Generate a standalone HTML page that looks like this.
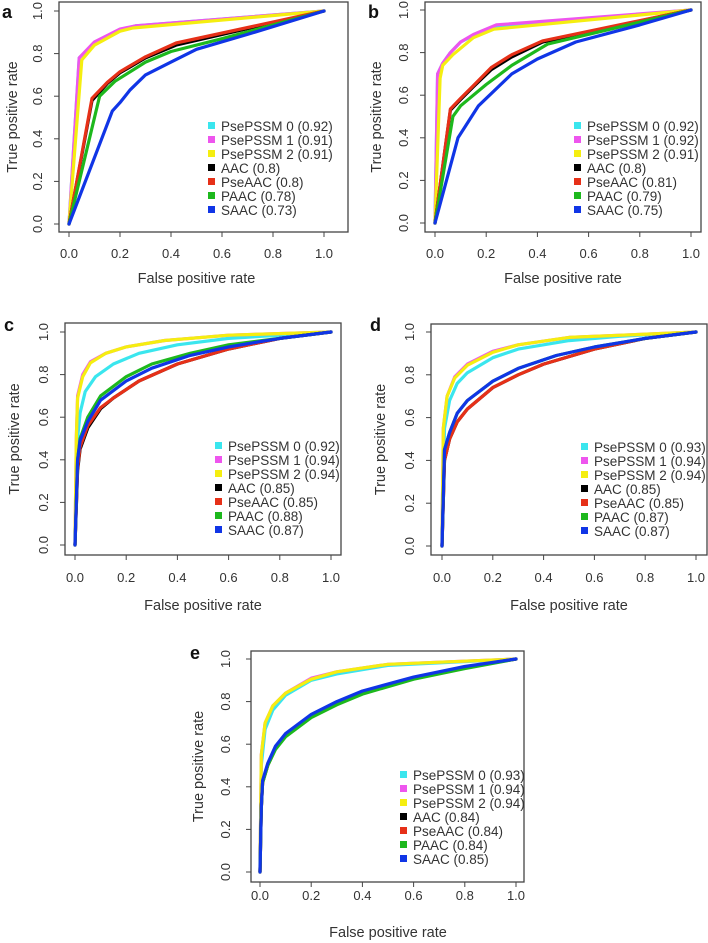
<!DOCTYPE html>
<html><head><meta charset="utf-8"><style>
html,body{margin:0;padding:0;background:#fff}
svg{display:block;font-family:"Liberation Sans",Arial,sans-serif}
</style></head><body>
<svg id="fig" width="708" height="943" viewBox="0 0 708 943" xmlns="http://www.w3.org/2000/svg"></svg>
<script>
const seriesNames = ["PsePSSM 0","PsePSSM 1","PsePSSM 2","AAC","PseAAC","PAAC","SAAC"];
const seriesColors = ["#3ae6ee","#ee55ee","#f5ee10","#000000","#e63018","#1db81d","#1035e6"];
const xTicks = [0,0.2,0.4,0.6,0.8,1.0];
const yTicks = [0,0.2,0.4,0.6,0.8,1.0];
const tickLabels = ["0.0","0.2","0.4","0.6","0.8","1.0"];

const aucA = ["0.92","0.91","0.91","0.8","0.8","0.78","0.73"];
const aucB = ["0.92","0.92","0.91","0.8","0.81","0.79","0.75"];
const aucC = ["0.92","0.94","0.94","0.85","0.85","0.88","0.87"];
const aucD = ["0.93","0.94","0.94","0.85","0.85","0.87","0.87"];
const aucE = ["0.93","0.94","0.94","0.84","0.84","0.84","0.85"];

const rocA = [
 [[0,0],[0.04,0.78],[0.1,0.85],[0.2,0.91],[0.26,0.93],[1,1]],
 [[0,0],[0.04,0.78],[0.1,0.855],[0.2,0.915],[0.26,0.93],[1,1]],
 [[0,0],[0.05,0.77],[0.1,0.84],[0.2,0.905],[0.25,0.92],[1,1]],
 [[0,0],[0.09,0.58],[0.15,0.66],[0.2,0.71],[0.3,0.78],[0.42,0.84],[1,1]],
 [[0,0],[0.09,0.59],[0.15,0.665],[0.2,0.715],[0.3,0.785],[0.42,0.85],[1,1]],
 [[0,0],[0.12,0.6],[0.18,0.67],[0.3,0.76],[0.4,0.81],[0.6,0.87],[1,1]],
 [[0,0],[0.17,0.53],[0.2,0.57],[0.24,0.63],[0.3,0.7],[0.4,0.76],[0.5,0.82],[0.7,0.89],[1,1]]
];
const rocB = [
 [[0,0],[0.01,0.7],[0.03,0.75],[0.06,0.8],[0.1,0.85],[0.15,0.88],[0.23,0.92],[1,1]],
 [[0,0],[0.01,0.7],[0.03,0.75],[0.06,0.8],[0.1,0.85],[0.15,0.885],[0.24,0.93],[1,1]],
 [[0,0],[0.02,0.68],[0.03,0.74],[0.07,0.79],[0.15,0.87],[0.23,0.91],[1,1]],
 [[0,0],[0.06,0.53],[0.1,0.58],[0.15,0.64],[0.22,0.72],[0.3,0.78],[0.42,0.85],[1,1]],
 [[0,0],[0.06,0.535],[0.1,0.585],[0.15,0.645],[0.22,0.73],[0.3,0.79],[0.42,0.855],[1,1]],
 [[0,0],[0.07,0.5],[0.1,0.55],[0.2,0.65],[0.3,0.74],[0.44,0.84],[1,1]],
 [[0,0],[0.09,0.4],[0.17,0.55],[0.3,0.7],[0.4,0.77],[0.55,0.85],[0.8,0.93],[1,1]]
];
const rocC = [
 [[0,0],[0.01,0.5],[0.02,0.62],[0.04,0.72],[0.08,0.79],[0.15,0.85],[0.25,0.9],[0.4,0.94],[0.6,0.97],[1,1]],
 [[0,0],[0.005,0.5],[0.01,0.7],[0.03,0.8],[0.06,0.86],[0.12,0.9],[0.2,0.93],[0.35,0.96],[0.6,0.985],[1,1]],
 [[0,0],[0.005,0.5],[0.01,0.69],[0.03,0.79],[0.06,0.855],[0.12,0.9],[0.2,0.93],[0.35,0.96],[0.6,0.985],[1,1]],
 [[0,0],[0.01,0.35],[0.02,0.45],[0.05,0.55],[0.1,0.64],[0.15,0.69],[0.25,0.77],[0.4,0.85],[0.6,0.92],[0.8,0.97],[1,1]],
 [[0,0],[0.01,0.36],[0.02,0.46],[0.05,0.56],[0.1,0.645],[0.15,0.69],[0.25,0.77],[0.4,0.85],[0.6,0.92],[0.8,0.97],[1,1]],
 [[0,0],[0.01,0.4],[0.02,0.5],[0.05,0.6],[0.1,0.7],[0.2,0.79],[0.3,0.85],[0.45,0.9],[0.6,0.94],[0.8,0.97],[1,1]],
 [[0,0],[0.01,0.4],[0.02,0.49],[0.05,0.58],[0.1,0.68],[0.2,0.77],[0.3,0.83],[0.45,0.89],[0.6,0.93],[0.8,0.97],[1,1]]
];
const rocD = [
 [[0,0],[0.01,0.55],[0.03,0.68],[0.06,0.76],[0.1,0.81],[0.2,0.88],[0.3,0.92],[0.5,0.96],[0.7,0.98],[1,1]],
 [[0,0],[0.005,0.55],[0.02,0.7],[0.05,0.79],[0.1,0.85],[0.2,0.91],[0.3,0.94],[0.5,0.975],[1,1]],
 [[0,0],[0.005,0.55],[0.02,0.7],[0.05,0.785],[0.1,0.845],[0.2,0.905],[0.3,0.94],[0.5,0.975],[1,1]],
 [[0,0],[0.01,0.4],[0.03,0.5],[0.06,0.58],[0.1,0.64],[0.2,0.74],[0.3,0.8],[0.4,0.85],[0.6,0.92],[0.8,0.97],[1,1]],
 [[0,0],[0.01,0.4],[0.03,0.5],[0.06,0.58],[0.1,0.64],[0.2,0.74],[0.3,0.8],[0.4,0.85],[0.6,0.92],[0.8,0.97],[1,1]],
 [[0,0],[0.01,0.45],[0.03,0.53],[0.06,0.62],[0.1,0.68],[0.2,0.77],[0.3,0.83],[0.45,0.89],[0.6,0.93],[0.8,0.97],[1,1]],
 [[0,0],[0.01,0.45],[0.03,0.53],[0.06,0.62],[0.1,0.68],[0.2,0.77],[0.3,0.83],[0.45,0.89],[0.6,0.93],[0.8,0.97],[1,1]]
];
const rocE = [
 [[0,0],[0.005,0.5],[0.02,0.67],[0.05,0.76],[0.1,0.83],[0.2,0.9],[0.3,0.93],[0.5,0.97],[1,1]],
 [[0,0],[0.005,0.55],[0.02,0.7],[0.05,0.78],[0.1,0.84],[0.2,0.91],[0.3,0.94],[0.5,0.975],[1,1]],
 [[0,0],[0.005,0.55],[0.02,0.7],[0.05,0.78],[0.1,0.84],[0.2,0.905],[0.3,0.94],[0.5,0.975],[1,1]],
 [[0,0],[0.005,0.3],[0.01,0.42],[0.03,0.5],[0.06,0.58],[0.1,0.64],[0.2,0.73],[0.3,0.79],[0.4,0.84],[0.6,0.91],[0.8,0.96],[1,1]],
 [[0,0],[0.005,0.3],[0.01,0.42],[0.03,0.5],[0.06,0.58],[0.1,0.64],[0.2,0.73],[0.3,0.79],[0.4,0.84],[0.6,0.91],[0.8,0.96],[1,1]],
 [[0,0],[0.005,0.3],[0.01,0.42],[0.03,0.5],[0.06,0.575],[0.1,0.635],[0.2,0.725],[0.3,0.785],[0.4,0.835],[0.6,0.905],[0.8,0.955],[1,1]],
 [[0,0],[0.005,0.3],[0.01,0.43],[0.03,0.51],[0.06,0.59],[0.1,0.65],[0.2,0.74],[0.3,0.8],[0.4,0.85],[0.6,0.915],[0.8,0.965],[1,1]]
];

const NS = "http://www.w3.org/2000/svg";
const fig = document.getElementById("fig");
function mk(tag, attrs, parent) {
  const e = document.createElementNS(NS, tag);
  for (const k in attrs) e.setAttribute(k, attrs[k]);
  (parent || fig).appendChild(e);
  return e;
}

const panels = [
 {id:"a", data:rocA, auc:aucA, box:[59,2,348,232], x0:69, x1:324, y0:224, y1:11, leg:[212,126], letter:[2,18], ylab:12, ytl:38, xtl:258, xlab:283},
 {id:"b", data:rocB, auc:aucB, box:[425,2,701,232], x0:435, x1:691, y0:223, y1:10, leg:[578,126], letter:[368,18], ylab:376, ytl:404, xtl:258, xlab:283},
 {id:"c", data:rocC, auc:aucC, box:[65,323,341,555], x0:75, x1:331, y0:545, y1:332, leg:[219,446], letter:[4,331], ylab:14, ytl:44, xtl:582, xlab:610},
 {id:"d", data:rocD, auc:aucD, box:[431,324,707,555], x0:442, x1:696, y0:546, y1:332, leg:[585,447], letter:[370,331], ylab:380, ytl:410, xtl:582, xlab:610},
 {id:"e", data:rocE, auc:aucE, box:[251,651,524,882], x0:260, x1:516, y0:872, y1:659, leg:[404,775], letter:[190,659], ylab:198, ytl:226, xtl:900, xlab:937}
];

panels.forEach(p => {
  const g = mk("g", {});
  
  
  const sx = v => p.x0 + v * (p.x1 - p.x0);
  const sy = v => p.y0 + v * (p.y1 - p.y0);

  // curves
  p.data.forEach((pts, i) => {
    const d = pts.map((q, k) => (k ? "L" : "M") + sx(q[0]).toFixed(1) + "," + sy(q[1]).toFixed(1)).join(" ");
    const path = mk("path", {d: d, fill: "none", stroke: seriesColors[i], "stroke-width": 3.2, "stroke-linejoin": "round", "stroke-linecap": "round"}, g);
    
    
  });

  // box
  const b = p.box;
  const rect = mk("rect", {x: b[0], y: b[1], width: b[2]-b[0], height: b[3]-b[1], fill: "none", stroke: "#444", "stroke-width": 1.3}, g);
  
  

  // x ticks
  xTicks.forEach((t, i) => {
    const x = sx(t);
    mk("line", {x1: x, x2: x, y1: b[3], y2: b[3] + 5, stroke: "#444", "stroke-width": 1}, g);
    const tx = mk("text", {x: x, y: p.xtl, "font-size": 13, "text-anchor": "middle", fill: "#333"}, g);
    tx.textContent = tickLabels[i];
    
    
  });
  // y ticks
  yTicks.forEach((t, i) => {
    const y = sy(t);
    mk("line", {x1: b[0] - 5, x2: b[0], y1: y, y2: y, stroke: "#444", "stroke-width": 1}, g);
    const tx = mk("text", {x: p.ytl + 4, y: y, "font-size": 13, "text-anchor": "middle", fill: "#333", transform: "rotate(-90 " + (p.ytl + 4) + " " + y + ")"}, g);
    tx.textContent = tickLabels[i];
    
    
  });

  const xl = mk("text", {x: (p.x0 + p.x1) / 2, y: p.xlab, "font-size": 14.5, "text-anchor": "middle", fill: "#333"}, g);
  xl.textContent = "False positive rate";
  
  
  const yc = (b[1] + b[3]) / 2;
  const yl = mk("text", {x: p.ylab + 5, y: yc, "font-size": 14.5, "text-anchor": "middle", fill: "#333", transform: "rotate(-90 " + (p.ylab + 5) + " " + yc + ")"}, g);
  yl.textContent = "True positive rate";
  
  

  const lt = mk("text", {x: p.letter[0], y: p.letter[1], "font-size": 18, "font-weight": "bold", fill: "#111"}, g);
  lt.textContent = p.id;
  
  

  // legend
  seriesNames.forEach((n, i) => {
    const y = p.leg[1] + i * 14;
    const sq = mk("rect", {x: p.leg[0] - 4, y: y - 4, width: 7, height: 7, fill: seriesColors[i]}, g);
    
    
    const t = mk("text", {x: p.leg[0] + 9, y: y + 5, "font-size": 13.5, fill: "#333"}, g);
    t.textContent = n + " (" + p.auc[i] + ")";
    
    
  });
});
</script>
</body></html>
